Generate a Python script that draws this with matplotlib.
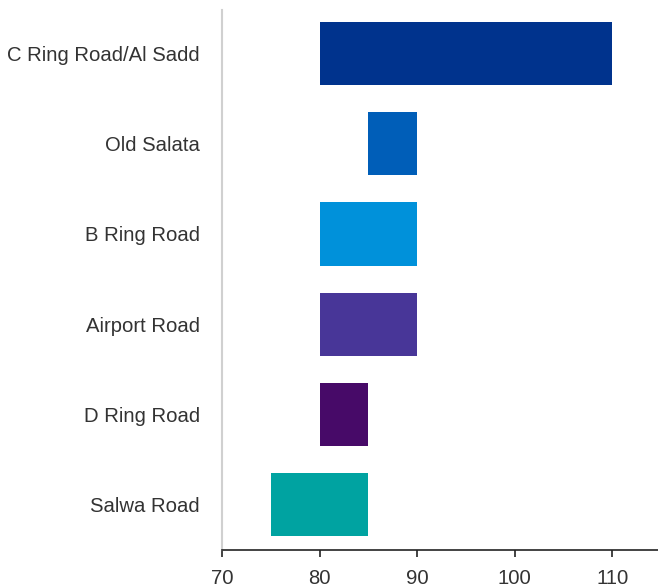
import matplotlib
matplotlib.use("Agg")
import matplotlib.pyplot as plt

# data: each road's low and high value, listed top to bottom
roads = ["C Ring Road/Al Sadd", "Old Salata", "B Ring Road", "Airport Road", "D Ring Road", "Salwa Road"]
low = [80, 85, 80, 80, 80, 75]
high = [110, 90, 90, 90, 85, 85]
colors = ["#00338D", "#005EB8", "#0091DA", "#483698", "#470A68", "#00A3A1"]

plt.rcParams["font.family"] = ["Liberation Sans", "DejaVu Sans"]

fig = plt.figure(figsize=(6.58, 5.87), dpi=100)
ax = fig.add_axes([0.3374, 0.063, 0.6626, 0.92])

ypos = list(range(len(roads)))
widths = [h - l for l, h in zip(low, high)]
ax.barh(ypos, widths, left=low, height=0.7, color=colors)

ax.set_yticks(ypos)
ax.set_yticklabels(roads, fontsize=14.6, color="#333333")
ax.tick_params(axis="y", length=0, pad=16)
ax.set_ylim(5.5, -0.48)

ax.set_xlim(70, 114.7)
ax.set_xticks([70, 80, 90, 100, 110])
ax.tick_params(axis="x", direction="out", length=5, width=1.2, color="#222222",
               labelsize=14.6, labelcolor="#333333", pad=9)

for s in ["top", "right"]:
    ax.spines[s].set_visible(False)
ax.spines["left"].set_color("#d0d0d0")
ax.spines["left"].set_linewidth(1.5)
ax.spines["bottom"].set_color("#222222")
ax.spines["bottom"].set_linewidth(1.2)

fig.savefig("out.png", dpi=100)
